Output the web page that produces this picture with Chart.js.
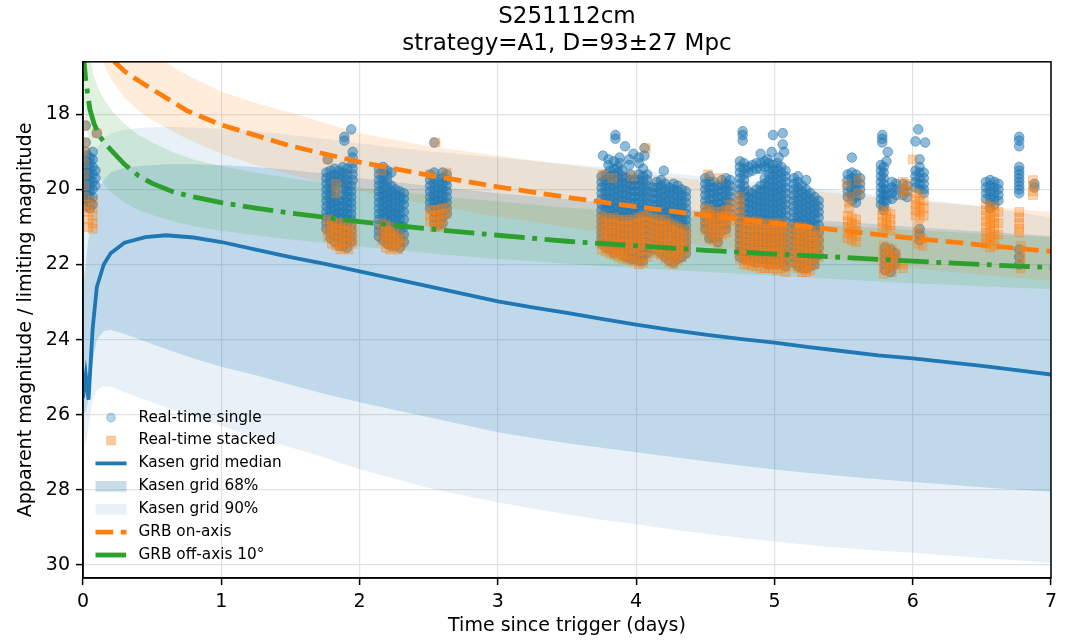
<!DOCTYPE html>
<html lang="en">
<head>
<meta charset="UTF-8">
<title>S251112cm light curve</title>
<script src="https://cdn.jsdelivr.net/npm/chart.js@4"></script>
<style>
    body { margin: 0; background: #fff; }
    #lc { display: block; }
</style>
</head>
<body>
<canvas id="lc" width="1068" height="641"></canvas>
<script>
// ---- axis ticks ----
const dayTicks = [0, 1, 2, 3, 4, 5, 6, 7];
const magTicks = [18, 20, 22, 24, 26, 28, 30];

// ---- Kasen grid envelope (days, mag) ----
const kasenT = [0, 0.02, 0.04, 0.07, 0.1, 0.15, 0.2, 0.3, 0.45, 0.6, 0.8, 1.0, 1.25, 1.5, 1.75, 2.0, 2.25, 2.5, 2.75, 3.0, 3.25, 3.5, 3.75, 4.0, 4.25, 4.5, 4.75, 5.0, 5.25, 5.5, 5.75, 6.0, 6.25, 6.5, 6.75, 7.0];
const kasenMedian = [25.55, 24.95, 25.6, 23.7, 22.6, 22.0, 21.7, 21.42, 21.27, 21.22, 21.28, 21.4, 21.6, 21.8, 21.98, 22.18, 22.38, 22.58, 22.78, 22.98, 23.14, 23.29, 23.45, 23.6, 23.74, 23.87, 23.98, 24.08, 24.2, 24.31, 24.42, 24.5, 24.6, 24.7, 24.81, 24.93];
const kasen68Bright = [22.6, 22.0, 21.3, 20.6, 20.1, 19.75, 19.55, 19.42, 19.36, 19.33, 19.33, 19.35, 19.4, 19.48, 19.58, 19.7, 19.8, 19.9, 20.0, 20.1, 20.18, 20.26, 20.34, 20.42, 20.5, 20.58, 20.66, 20.74, 20.8, 20.87, 20.93, 21.0, 21.06, 21.12, 21.18, 21.24];
const kasen68Faint = [26.0, 25.9, 25.6, 24.6, 24.0, 23.78, 23.74, 23.85, 24.05, 24.25, 24.5, 24.72, 24.95, 25.2, 25.45, 25.67, 25.87, 26.07, 26.27, 26.47, 26.62, 26.76, 26.88, 27.0, 27.12, 27.24, 27.35, 27.46, 27.55, 27.64, 27.72, 27.79, 27.86, 27.93, 27.99, 28.05];
const kasen90Bright = [21.5, 20.5, 19.8, 19.2, 18.9, 18.65, 18.5, 18.4, 18.35, 18.33, 18.35, 18.38, 18.45, 18.55, 18.65, 18.77, 18.88, 18.98, 19.07, 19.15, 19.24, 19.32, 19.4, 19.48, 19.57, 19.66, 19.75, 19.85, 19.95, 20.05, 20.15, 20.25, 20.35, 20.45, 20.6, 20.75];
const kasen90Faint = [26.5, 26.8, 26.3, 25.6, 25.35, 25.24, 25.25, 25.4, 25.6, 25.8, 26.05, 26.3, 26.6, 26.87, 27.15, 27.45, 27.7, 27.95, 28.15, 28.33, 28.5, 28.65, 28.8, 28.92, 29.05, 29.17, 29.28, 29.38, 29.47, 29.55, 29.62, 29.68, 29.75, 29.82, 29.88, 29.95];

// ---- GRB afterglow, on-axis ----
const onAxisT = [0.05, 0.1, 0.15, 0.2, 0.3, 0.4, 0.5, 0.75, 1.0, 1.25, 1.5, 2.0, 2.5, 3.0, 3.5, 4.0, 4.5, 5.0, 5.5, 6.0, 6.5, 7.0];
const onAxisMag = [14.0, 15.2, 15.95, 16.5, 16.85, 17.1, 17.33, 17.9, 18.28, 18.56, 18.84, 19.27, 19.62, 19.93, 20.21, 20.46, 20.69, 20.9, 21.1, 21.3, 21.48, 21.65];
const onAxisBright = [12.5, 13.8, 14.6, 15.2, 15.75, 16.1, 16.4, 16.95, 17.4, 17.7, 17.95, 18.5, 18.85, 19.1, 19.35, 19.57, 19.77, 19.95, 20.12, 20.3, 20.45, 20.6];
const onAxisFaint = [15.0, 16.1, 16.65, 17.05, 17.55, 17.9, 18.15, 18.65, 19.05, 19.35, 19.6, 20.05, 20.4, 20.72, 21.0, 21.25, 21.5, 21.7, 21.9, 22.1, 22.27, 22.43];

// ---- GRB afterglow, 10 deg off-axis ----
const offAxisT = [0, 0.02, 0.05, 0.08, 0.12, 0.17, 0.22, 0.3, 0.4, 0.5, 0.65, 0.8, 1.0, 1.25, 1.5, 2.0, 2.5, 3.0, 3.5, 4.0, 4.5, 5.0, 5.5, 6.0, 6.5, 7.0];
const offAxisMag = [16.3, 17.1, 17.87, 18.25, 18.58, 18.82, 19.02, 19.33, 19.63, 19.84, 20.06, 20.2, 20.35, 20.5, 20.63, 20.86, 21.05, 21.22, 21.38, 21.5, 21.62, 21.72, 21.81, 21.91, 22.0, 22.08];
const offAxisBright = [14.5, 15.5, 16.5, 17.0, 17.4, 17.7, 17.95, 18.25, 18.55, 18.75, 19.0, 19.2, 19.38, 19.55, 19.7, 19.95, 20.15, 20.32, 20.48, 20.62, 20.75, 20.87, 20.98, 21.08, 21.18, 21.27];
const offAxisFaint = [17.4, 18.2, 19.0, 19.4, 19.7, 19.95, 20.12, 20.35, 20.55, 20.68, 20.85, 20.98, 21.1, 21.22, 21.33, 21.52, 21.7, 21.85, 21.98, 22.1, 22.2, 22.3, 22.4, 22.5, 22.58, 22.66];

// ---- real-time limiting magnitudes: each row is [t, mag, mag, ...] ----
const singleObs = [
    [0.01, 19.35, 19.5, 19.65, 19.8, 19.95, 20.1, 20.25],
    [0.02, 18.3, 18.75, 19.0],
    [0.03, 19.1, 19.25, 19.4, 19.55, 19.7, 19.85, 20.0, 20.15, 20.3, 20.45],
    [0.05, 19.15, 19.3, 19.45, 19.6, 19.75, 19.9, 20.05, 20.2, 20.35, 20.5],
    [0.07, 19.0, 19.2, 19.4, 19.6, 19.8, 20.0, 20.2, 20.4],
    [0.09, 19.5, 19.7, 19.9],
    [0.1, 18.5],
    [1.77, 19.2],
    [1.89, 18.6, 18.7], [1.94, 18.4], [1.95, 19.0, 19.15, 19.3, 19.45, 19.6, 19.75],
    [1.76, 19.55, 19.7, 19.85, 20.0, 20.15, 20.3, 20.45, 20.6, 20.75, 20.9, 21.05],
    [1.79, 19.5, 19.65, 19.8, 19.95, 20.1, 20.25, 20.4, 20.55, 20.7, 20.85, 21.0, 21.15, 21.3],
    [1.82, 19.45, 19.6, 19.75, 19.9, 20.05, 20.2, 20.35, 20.5, 20.65, 20.8, 20.95, 21.1, 21.25, 21.4],
    [1.85, 19.5, 19.65, 19.8, 20.3, 20.45, 20.6, 20.75, 20.9, 21.05, 21.2, 21.35, 21.5],
    [1.88, 19.4, 19.55, 19.7, 19.85, 20.0, 20.15, 20.3, 20.45, 20.6, 20.75, 20.9, 21.05, 21.2, 21.35, 21.5],
    [1.91, 19.45, 19.6, 19.75, 19.9, 20.05, 20.2, 20.35, 20.5, 20.65, 20.8, 20.95, 21.1, 21.25, 21.4, 21.55],
    [1.94, 19.9, 20.05, 20.2, 20.35, 20.5, 20.65, 20.8, 20.95, 21.1, 21.25, 21.4],
    [2.14, 19.45, 19.6, 19.75, 19.9, 20.05, 20.2, 20.35, 20.5, 20.65, 20.8, 20.95, 21.1, 21.25],
    [2.17, 19.4, 19.55, 19.7, 19.85, 20.0, 20.15, 20.3, 20.45, 20.6, 20.75, 20.9, 21.05, 21.2, 21.35],
    [2.2, 19.5, 19.65, 19.8, 19.95, 20.1, 20.25, 20.4, 20.55, 20.7, 20.85, 21.0, 21.15, 21.3, 21.45],
    [2.23, 19.55, 19.9, 20.05, 20.2, 20.35, 20.5, 20.65, 20.8, 20.95, 21.1, 21.25, 21.4, 21.5],
    [2.26, 20.0, 20.15, 20.3, 20.45, 20.6, 20.75, 20.9, 21.05, 21.2, 21.35, 21.5],
    [2.29, 20.05, 20.2, 20.35, 20.5, 20.65, 20.8, 20.95, 21.1, 21.25, 21.4, 21.55],
    [2.32, 20.1, 20.25, 20.4, 20.6, 20.8, 21.0, 21.2, 21.4],
    [2.51, 19.6, 19.75, 19.9, 20.05, 20.2, 20.35, 20.5],
    [2.54, 18.75, 19.55, 19.7, 19.85, 20.0, 20.15, 20.3, 20.45, 20.6, 20.75, 20.9],
    [2.57, 19.8, 19.95, 20.1, 20.25, 20.4, 20.55, 20.7, 20.85, 20.95],
    [2.6, 19.55, 19.7, 19.85, 20.0, 20.15, 20.3, 20.45, 20.6, 20.75, 20.9],
    [2.63, 19.6, 19.75, 19.9, 20.05, 20.2, 20.35, 20.5, 20.65],
    [3.85, 18.55, 18.65], [3.92, 18.85], [3.76, 19.1], [3.8, 19.2, 19.35], [3.84, 19.25], [3.88, 19.15, 19.3],
    [3.95, 19.2, 19.35], [3.98, 19.05], [4.02, 19.15, 19.3], [4.06, 18.9, 19.1], [4.05, 19.45],
    [3.75, 19.65, 19.8, 19.95, 20.1, 20.25, 20.4, 20.55, 20.7, 20.85, 21.0, 21.15, 21.3, 21.45],
    [3.78, 19.6, 19.75, 19.9, 20.05, 20.2, 20.35, 20.5, 20.65, 20.8, 20.95, 21.1, 21.25, 21.4, 21.55],
    [3.81, 19.5, 19.65, 19.8, 19.95, 20.1, 20.25, 20.4, 20.55, 20.7, 20.85, 21.0, 21.15, 21.3, 21.45, 21.6],
    [3.84, 19.45, 19.6, 19.75, 19.9, 20.05, 20.2, 20.35, 20.5, 20.65, 20.8, 20.95, 21.1, 21.25, 21.4, 21.55, 21.7],
    [3.87, 19.4, 19.55, 19.7, 19.85, 20.0, 20.15, 20.3, 20.45, 20.6, 20.75, 20.9, 21.05, 21.2, 21.35, 21.5, 21.65],
    [3.9, 19.5, 19.65, 19.8, 19.95, 20.1, 20.25, 20.4, 20.55, 20.7, 20.85, 21.0, 21.15, 21.3, 21.45, 21.6, 21.75],
    [3.93, 19.7, 19.85, 20.0, 20.15, 20.3, 20.45, 20.6, 20.75, 20.9, 21.05, 21.2, 21.35, 21.5, 21.65, 21.8],
    [3.96, 19.6, 19.75, 19.9, 20.05, 20.2, 20.35, 20.5, 20.65, 20.8, 20.95, 21.1, 21.25, 21.4, 21.55, 21.7, 21.85],
    [3.99, 19.75, 19.9, 20.05, 20.2, 20.35, 20.5, 20.65, 20.8, 20.95, 21.1, 21.25, 21.4, 21.55, 21.7, 21.85],
    [4.02, 19.6, 19.75, 19.9, 20.05, 20.2, 20.35, 20.5, 20.65, 20.8, 20.95, 21.1, 21.25, 21.4, 21.55, 21.7, 21.9],
    [4.05, 19.65, 19.8, 19.95, 20.1, 20.25, 20.4, 20.55, 20.7, 20.85, 21.0, 21.15, 21.3, 21.45, 21.6, 21.75, 21.9],
    [4.08, 19.6, 19.75, 19.9, 20.05, 20.2, 20.35, 20.5, 20.65, 20.8, 20.95, 21.1, 21.25, 21.4, 21.55, 21.7],
    [4.2, 19.5],
    [4.12, 19.95, 20.1, 20.25, 20.4, 20.55, 20.7, 20.85, 21.0, 21.15, 21.3, 21.45, 21.6],
    [4.15, 19.8, 19.95, 20.1, 20.25, 20.4, 20.55, 20.7, 20.85, 21.0, 21.15, 21.3, 21.45, 21.6],
    [4.18, 19.75, 19.9, 20.05, 20.2, 20.35, 20.5, 20.65, 20.8, 20.95, 21.1, 21.25, 21.4, 21.55, 21.7],
    [4.21, 19.85, 20.0, 20.15, 20.3, 20.45, 20.6, 20.75, 20.9, 21.05, 21.2, 21.35, 21.5, 21.65, 21.8],
    [4.24, 19.95, 20.1, 20.25, 20.4, 20.55, 20.7, 20.85, 21.0, 21.15, 21.3, 21.45, 21.6, 21.75, 21.9],
    [4.27, 19.85, 20.0, 20.15, 20.3, 20.45, 20.6, 20.75, 20.9, 21.05, 21.2, 21.35, 21.5, 21.65, 21.8, 21.95],
    [4.3, 19.9, 20.05, 20.2, 20.35, 20.5, 20.65, 20.8, 20.95, 21.1, 21.25, 21.4, 21.55, 21.7, 21.85],
    [4.33, 20.0, 20.15, 20.3, 20.45, 20.6, 20.75, 20.9, 21.05, 21.2, 21.35, 21.5, 21.65, 21.8],
    [4.36, 20.05, 20.2, 20.35, 20.5, 20.65, 20.8, 20.95, 21.1, 21.25, 21.4, 21.55, 21.7],
    [4.5, 19.7, 19.85, 20.0, 20.15, 20.3, 20.45, 20.6, 20.75, 20.9, 21.05],
    [4.53, 19.65, 19.8, 19.95, 20.1, 20.25, 20.4, 20.55, 20.7, 20.85, 21.0, 21.15, 21.3],
    [4.56, 19.8, 19.95, 20.1, 20.25, 20.4, 20.55, 20.7, 20.85, 21.0, 21.15, 21.3],
    [4.59, 19.9, 20.05, 20.2, 20.35, 20.5, 20.65, 20.8, 20.95, 21.1, 21.25, 21.4],
    [4.62, 19.75, 19.9, 20.05, 20.2, 20.35, 20.5, 20.65, 20.8, 20.95, 21.1],
    [4.65, 19.7, 19.85, 20.0, 20.15, 20.3, 20.45, 20.6, 20.75, 20.9, 21.05],
    [4.68, 19.75, 19.9, 20.05, 20.2, 20.35, 20.5, 20.65],
    [4.77, 18.45, 18.55, 18.7], [4.99, 18.55], [5.06, 18.5, 18.8], [4.98, 19.0], [5.07, 19.0],
    [4.9, 19.05], [4.95, 19.2], [5.03, 19.15],
    [4.75, 19.25, 19.4, 19.55, 19.7, 19.85, 20.0, 20.15, 20.3, 20.45, 20.6, 20.75, 20.9, 21.05, 21.2, 21.35, 21.5, 21.65, 21.8],
    [4.78, 19.3, 19.45, 19.6, 19.75, 19.9, 20.05, 20.2, 20.35, 20.5, 20.65, 20.8, 20.95, 21.1, 21.25, 21.4, 21.55, 21.7, 21.85],
    [4.81, 19.4, 19.55, 20.05, 20.2, 20.35, 20.5, 20.65, 20.8, 20.95, 21.1, 21.25, 21.4, 21.55, 21.7, 21.85],
    [4.84, 19.35, 19.5, 20.1, 20.25, 20.4, 20.55, 20.7, 20.85, 21.0, 21.15, 21.3, 21.45, 21.6, 21.75, 21.9],
    [4.87, 19.3, 19.45, 20.0, 20.15, 20.3, 20.45, 20.6, 20.75, 20.9, 21.05, 21.2, 21.35, 21.5, 21.65, 21.8, 21.95],
    [4.9, 19.3, 19.45, 19.9, 20.05, 20.2, 20.35, 20.5, 20.65, 20.8, 20.95, 21.1, 21.25, 21.4, 21.55, 21.7, 21.85],
    [4.93, 19.25, 19.4, 19.7, 19.85, 20.0, 20.15, 20.3, 20.45, 20.6, 20.75, 20.9, 21.05, 21.2, 21.35, 21.5, 21.65, 21.8, 21.95],
    [4.96, 19.3, 19.45, 19.6, 19.75, 19.9, 20.05, 20.2, 20.35, 20.5, 20.65, 20.8, 20.95, 21.1, 21.25, 21.4, 21.55, 21.7, 21.85, 22.0],
    [4.99, 19.35, 19.5, 19.65, 19.8, 19.95, 20.1, 20.25, 20.4, 20.55, 20.7, 20.85, 21.0, 21.15, 21.3, 21.45, 21.6, 21.75, 21.9],
    [5.02, 19.3, 19.45, 19.6, 19.75, 19.9, 20.05, 20.2, 20.35, 20.5, 20.65, 20.8, 20.95, 21.1, 21.25, 21.4, 21.55, 21.7, 21.85, 22.0],
    [5.05, 19.4, 19.55, 19.7, 19.85, 20.0, 20.15, 20.3, 20.45, 20.6, 20.75, 20.9, 21.05, 21.2, 21.35, 21.5, 21.65, 21.8, 21.95],
    [5.08, 19.5, 19.65, 19.8, 19.95, 20.1, 20.25, 20.4, 20.55, 20.7, 20.85, 21.0, 21.15, 21.3, 21.45, 21.6, 21.75, 21.9, 22.05],
    [5.14, 19.7, 19.85, 20.0, 20.15, 20.3, 20.45, 20.6, 20.75, 20.9, 21.05, 21.2, 21.35, 21.5, 21.65, 21.8, 21.95],
    [5.17, 19.65, 19.8, 19.95, 20.1, 20.25, 20.4, 20.55, 20.7, 20.85, 21.0, 21.15, 21.3, 21.45, 21.6, 21.75, 21.9, 22.05],
    [5.2, 19.9, 20.05, 20.2, 20.35, 20.5, 20.65, 20.8, 20.95, 21.1, 21.25, 21.4, 21.55, 21.7, 21.85, 22.0, 22.1],
    [5.23, 19.75, 20.0, 20.15, 20.3, 20.45, 20.6, 20.75, 20.9, 21.05, 21.2, 21.35, 21.5, 21.65, 21.8, 21.95, 22.1],
    [5.26, 20.1, 20.25, 20.4, 20.55, 20.7, 20.85, 21.0, 21.15, 21.3, 21.45, 21.6, 21.75, 21.9, 22.05],
    [5.29, 20.2, 20.35, 20.5, 20.65, 20.8, 20.95, 21.1, 21.25, 21.4, 21.55, 21.7, 21.85, 22.0],
    [5.32, 20.3, 20.45, 20.6, 20.75, 20.95, 21.15, 21.35, 21.55, 21.75],
    [5.56, 19.15],
    [5.53, 19.6, 19.75, 19.9, 20.05, 20.2],
    [5.56, 19.55, 19.7, 19.85, 20.0, 20.15, 20.3],
    [5.59, 19.6, 19.75, 19.9, 20.05, 20.2, 20.35],
    [5.62, 19.7, 19.85, 20.0, 20.15],
    [5.78, 18.55, 18.65, 18.75], [5.82, 19.0], [5.81, 19.25],
    [5.77, 19.35, 19.5, 19.65, 19.8, 19.95, 20.1, 20.25, 20.4],
    [5.79, 19.4, 19.55, 19.7, 19.85, 20.0, 20.15, 20.3, 20.45, 20.55],
    [5.81, 20.0, 20.15, 20.3],
    [5.85, 19.8, 19.95, 20.1, 20.25],
    [5.88, 19.85, 20.0, 20.15],
    [5.8, 21.55, 21.7, 21.85, 22.0, 22.15], [5.84, 21.6, 21.75, 21.9, 22.05, 22.2], [5.87, 21.7, 21.85, 22.0],
    [5.93, 19.85, 20.0, 20.15], [5.96, 19.9, 20.05, 20.2],
    [6.04, 18.4], [6.02, 18.72], [6.09, 18.75], [6.05, 19.2],
    [6.02, 19.5, 19.65, 19.8, 19.95], [6.05, 19.4, 19.55, 19.7, 19.85, 20.0], [6.08, 19.55, 19.7, 19.85, 20.0, 20.1],
    [6.05, 21.05, 21.2, 21.35],
    [6.53, 19.8, 19.95, 20.1, 20.25], [6.56, 19.75, 19.9, 20.05, 20.2, 20.35, 20.5],
    [6.59, 19.8, 19.95, 20.1, 20.25, 20.4], [6.62, 19.85, 20.0, 20.15, 20.3],
    [6.77, 18.6, 18.7, 18.85, 19.4, 19.5, 19.6, 19.7, 19.8, 19.9, 20.0, 20.1, 21.6, 21.8, 22.0],
    [6.88, 19.85, 19.95]
];

const stackedObs = [
    [0.01, 18.3, 18.75, 19.0, 19.3, 19.6, 19.9, 20.2, 20.5],
    [0.1, 18.5],
    [0.04, 20.4, 20.6, 20.8, 21.0],
    [0.07, 20.3, 20.5, 20.7, 20.9, 21.05],
    [1.77, 19.2], [1.83, 19.85, 20.1],
    [1.77, 20.8, 20.95, 21.1, 21.25],
    [1.8, 20.85, 21.0, 21.15, 21.3, 21.45],
    [1.83, 20.9, 21.05, 21.2, 21.35, 21.5],
    [1.86, 20.9, 21.05, 21.2, 21.35, 21.5, 21.6],
    [1.89, 20.95, 21.1, 21.25, 21.4, 21.55],
    [1.92, 20.95, 21.1, 21.25, 21.4, 21.6],
    [1.95, 21.0, 21.15, 21.3, 21.45],
    [2.16, 19.5],
    [2.16, 20.9, 21.05, 21.2, 21.35],
    [2.19, 20.95, 21.1, 21.25, 21.4, 21.55],
    [2.22, 21.0, 21.15, 21.3, 21.45, 21.6],
    [2.25, 21.1, 21.25, 21.4, 21.55],
    [2.28, 21.2, 21.35, 21.5, 21.6],
    [2.31, 21.3, 21.45],
    [2.55, 18.75], [2.51, 19.6], [2.63, 19.55],
    [2.51, 20.55, 20.7, 20.85],
    [2.54, 20.55, 20.7, 20.85, 21.0],
    [2.57, 20.55, 20.7, 20.85, 21.0],
    [2.6, 20.5, 20.65, 20.8, 20.95],
    [2.63, 20.5, 20.65],
    [4.07, 18.9], [3.76, 19.6], [3.83, 19.7], [3.97, 19.65],
    [3.75, 20.7, 20.85, 21.0, 21.15, 21.3, 21.45, 21.6],
    [3.78, 20.75, 20.9, 21.05, 21.2, 21.35, 21.5, 21.65],
    [3.81, 20.8, 20.95, 21.1, 21.25, 21.4, 21.55, 21.7],
    [3.84, 20.75, 20.9, 21.05, 21.2, 21.35, 21.5, 21.65, 21.75],
    [3.87, 20.8, 20.95, 21.1, 21.25, 21.4, 21.55, 21.7, 21.8],
    [3.9, 20.85, 21.0, 21.15, 21.3, 21.45, 21.6, 21.75, 21.85],
    [3.93, 20.8, 20.95, 21.1, 21.25, 21.4, 21.55, 21.7, 21.85],
    [3.96, 20.85, 21.0, 21.15, 21.3, 21.45, 21.6, 21.75, 21.9],
    [3.99, 20.8, 20.95, 21.1, 21.25, 21.4, 21.55, 21.7, 21.9],
    [4.02, 20.75, 20.9, 21.05, 21.2, 21.35, 21.5, 21.65, 21.85, 22.0],
    [4.05, 20.7, 20.85, 21.0, 21.15, 21.3, 21.45, 21.6, 21.8, 21.95],
    [4.08, 20.7, 20.85, 21.0, 21.15, 21.3, 21.45, 21.6, 21.8],
    [4.12, 20.75, 20.9, 21.05, 21.2, 21.35, 21.5, 21.65],
    [4.15, 20.8, 20.95, 21.1, 21.25, 21.4, 21.55, 21.7],
    [4.18, 20.85, 21.0, 21.15, 21.3, 21.45, 21.6, 21.75],
    [4.21, 20.8, 20.95, 21.1, 21.25, 21.4, 21.55, 21.7, 21.85],
    [4.24, 20.9, 21.05, 21.2, 21.35, 21.5, 21.65, 21.8, 21.95],
    [4.27, 20.95, 21.1, 21.25, 21.4, 21.55, 21.7, 21.85, 22.0],
    [4.3, 21.0, 21.15, 21.3, 21.45, 21.6, 21.75, 21.9],
    [4.33, 21.05, 21.2, 21.35, 21.5, 21.65, 21.8],
    [4.36, 21.1, 21.25, 21.4, 21.55, 21.7],
    [4.52, 19.6], [4.6, 19.7],
    [4.5, 20.5, 20.65, 20.8, 20.95, 21.1],
    [4.53, 20.55, 20.7, 20.85, 21.0, 21.15, 21.3],
    [4.56, 20.6, 20.75, 20.9, 21.05, 21.2, 21.35],
    [4.59, 20.7, 20.85, 21.0, 21.15, 21.3, 21.45],
    [4.62, 20.6, 20.75, 20.9, 21.05, 21.2],
    [4.65, 20.55, 20.7, 20.85, 21.0, 21.15],
    [4.68, 20.4, 20.55, 20.7, 20.85],
    [4.75, 20.2, 20.35, 20.5, 20.65, 20.8, 20.95, 21.1, 21.25, 21.4, 21.55, 21.7, 21.85],
    [4.78, 20.85, 21.0, 21.15, 21.3, 21.45, 21.6, 21.75, 21.9, 22.0],
    [4.81, 20.85, 21.0, 21.15, 21.3, 21.45, 21.6, 21.75, 21.9, 22.0],
    [4.84, 20.9, 21.05, 21.2, 21.35, 21.5, 21.65, 21.8, 21.95, 22.05],
    [4.87, 20.85, 21.0, 21.15, 21.3, 21.45, 21.6, 21.75, 21.9, 22.05],
    [4.9, 20.9, 21.05, 21.2, 21.35, 21.5, 21.65, 21.8, 21.95, 22.1],
    [4.93, 20.9, 21.05, 21.2, 21.35, 21.5, 21.65, 21.8, 21.95, 22.1],
    [4.96, 20.95, 21.1, 21.25, 21.4, 21.55, 21.7, 21.85, 22.0, 22.1],
    [4.99, 20.9, 21.05, 21.2, 21.35, 21.5, 21.65, 21.8, 21.95, 22.1],
    [5.02, 20.95, 21.1, 21.25, 21.4, 21.55, 21.7, 21.85, 22.0, 22.15],
    [5.05, 20.9, 21.05, 21.2, 21.35, 21.5, 21.65, 21.8, 21.95, 22.1],
    [5.08, 21.0, 21.15, 21.3, 21.45, 21.6, 21.75, 21.9, 22.05, 22.2],
    [5.14, 21.0, 21.15, 21.3, 21.45, 21.6, 21.75, 21.9, 22.05],
    [5.17, 21.05, 21.2, 21.35, 21.5, 21.65, 21.8, 21.95, 22.1],
    [5.2, 21.0, 21.15, 21.3, 21.45, 21.6, 21.75, 21.9, 22.05, 22.2],
    [5.23, 21.05, 21.2, 21.35, 21.5, 21.65, 21.8, 21.95, 22.1, 22.2],
    [5.26, 21.1, 21.25, 21.4, 21.55, 21.7, 21.85, 22.0, 22.15],
    [5.29, 21.1, 21.25, 21.4, 21.55, 21.7, 21.85, 22.0],
    [5.32, 21.2, 21.35, 21.5, 21.65, 21.8],
    [5.52, 19.85], [5.61, 19.75], [5.61, 20.1],
    [5.54, 20.2, 20.35, 20.5],
    [5.53, 20.7, 20.85, 21.0, 21.15, 21.3],
    [5.56, 20.75, 20.9, 21.05, 21.2, 21.35],
    [5.59, 20.8, 20.95, 21.1, 21.25, 21.4],
    [5.78, 20.55, 20.7, 20.85, 21.0],
    [5.81, 20.6, 20.75, 20.9, 21.05],
    [5.84, 20.65, 20.8, 20.95, 21.1],
    [5.79, 21.5, 21.65, 21.8, 21.95, 22.1, 22.25],
    [5.82, 21.55, 21.7, 21.85, 22.0, 22.15],
    [5.85, 21.6, 21.75, 21.9, 22.05, 22.2],
    [5.88, 21.7, 21.85, 22.0],
    [5.93, 19.8, 20.0, 20.15], [5.96, 19.85, 20.05], [5.93, 22.0, 22.1],
    [6.0, 19.2],
    [6.02, 20.1, 20.25, 20.4, 20.55, 20.7],
    [6.05, 20.15, 20.3, 20.45, 20.6, 20.75],
    [6.08, 20.3, 20.5, 20.7],
    [6.04, 21.0, 21.15, 21.3, 21.45], [6.07, 21.3, 21.5],
    [6.53, 20.4, 20.55, 20.7, 20.85, 21.0, 21.15, 21.3, 21.45],
    [6.56, 20.5, 20.65, 20.8, 20.95, 21.1, 21.25, 21.4, 21.55],
    [6.59, 20.45, 20.6, 20.75, 20.9, 21.05, 21.2, 21.35, 21.5],
    [6.62, 20.6, 20.9, 21.2],
    [6.77, 20.6, 20.75, 20.9, 21.05, 21.15],
    [6.78, 21.5, 21.65, 21.8, 21.95, 22.1],
    [6.87, 19.75, 19.9, 20.05, 20.15]
];

const legendLabels = ['Real-time single', 'Real-time stacked', 'Kasen grid median', 'Kasen grid 68%', 'Kasen grid 90%', 'GRB on-axis', 'GRB off-axis 10°'];

// ---- helpers ----
const BLUE = '31,119,180', ORANGE = '255,127,14', GREEN = '44,160,44';
const rgba = (c, a) => `rgba(${c},${a})`;
const xy = (t, v) => t.map((x, i) => ({ x, y: v[i] }));
const flatten = rows => rows.flatMap(([t, ...mags]) => mags.map(m => ({ x: t, y: m })));
const FONT = '"DejaVu Sans", "Liberation Sans", sans-serif';

const SINGLE_A = 0.5, STACK_A = 0.32;

function edge(t, v, order) {
    return { data: xy(t, v), showLine: true, borderWidth: 0, borderColor: 'rgba(0,0,0,0)', pointRadius: 0, fill: false, order };
}
function edgeFill(t, v, color, order) {
    return { data: xy(t, v), showLine: true, borderWidth: 0, borderColor: 'rgba(0,0,0,0)', pointRadius: 0, fill: '-1', backgroundColor: color, order };
}
function curve(t, v, color, width, dash, order) {
    return { data: xy(t, v), showLine: true, borderColor: color, borderWidth: width, borderDash: dash, pointRadius: 0, fill: false, tension: 0, order };
}

const datasets = [
    edge(kasenT, kasen90Bright, 9),
    edgeFill(kasenT, kasen90Faint, rgba(BLUE, 0.1), 9),
    edge(kasenT, kasen68Bright, 8),
    edgeFill(kasenT, kasen68Faint, rgba(BLUE, 0.2), 8),
    edge(onAxisT, onAxisBright, 7),
    edgeFill(onAxisT, onAxisFaint, rgba(ORANGE, 0.15), 7),
    edge(offAxisT, offAxisBright, 6),
    edgeFill(offAxisT, offAxisFaint, rgba(GREEN, 0.15), 6),
    {
        label: 'Real-time single', data: flatten(singleObs), showLine: false,
        pointStyle: 'circle', pointRadius: 4.8, pointBorderWidth: 1,
        pointBackgroundColor: rgba(BLUE, SINGLE_A), pointBorderColor: rgba(BLUE, SINGLE_A), order: 5
    },
    {
        label: 'Real-time stacked', data: flatten(stackedObs), showLine: false,
        pointStyle: 'rect', pointRadius: 6.2, pointBorderWidth: 1,
        pointBackgroundColor: rgba(ORANGE, STACK_A), pointBorderColor: rgba(ORANGE, STACK_A), order: 4
    },
    curve(kasenT, kasenMedian, rgba(BLUE, 1), 3.8, [], 3),
    curve(onAxisT, onAxisMag, rgba(ORANGE, 1), 4.8, [17.7, 7.6], 2),
    curve(offAxisT, offAxisMag, rgba(GREEN, 1), 4.8, [30.6, 7.6, 4.8, 7.6], 1)
];

// legend drawn inside the axes, lower left, no frame
const mplLegend = {
    id: 'mplLegend',
    afterDatasetsDraw(chart) {
        const { ctx, chartArea } = chart;
        const x0 = chartArea.left + 12.5, x1 = x0 + 31, xm = (x0 + x1) / 2;
        const rowH = 22.9;
        const y0 = chartArea.bottom - 23 - rowH * (legendLabels.length - 1);
        ctx.save();
        legendLabels.forEach((label, i) => {
            const y = y0 + i * rowH;
            ctx.setLineDash([]);
            if (i === 0) {
                ctx.beginPath();
                ctx.arc(xm, y, 4.3, 0, Math.PI * 2);
                ctx.fillStyle = rgba(BLUE, 0.3);
                ctx.strokeStyle = rgba(BLUE, 0.3);
                ctx.lineWidth = 1.2;
                ctx.fill(); ctx.stroke();
            } else if (i === 1) {
                ctx.fillStyle = rgba(ORANGE, 0.4);
                ctx.strokeStyle = rgba(ORANGE, 0.4);
                ctx.lineWidth = 1;
                ctx.fillRect(xm - 4.25, y - 4.25, 8.5, 8.5);
                ctx.strokeRect(xm - 4.25, y - 4.25, 8.5, 8.5);
            } else if (i === 3 || i === 4) {
                ctx.fillStyle = rgba(BLUE, i === 3 ? 0.25 : 0.1);
                ctx.fillRect(x0, y - 5.3, x1 - x0, 10.7);
            } else {
                const spec = {
                    2: [rgba(BLUE, 1), 3.8, []],
                    5: [rgba(ORANGE, 1), 4.8, [17.7, 7.6]],
                    6: [rgba(GREEN, 1), 4.8, [30.6, 7.6, 4.8, 7.6]]
                }[i];
                ctx.strokeStyle = spec[0];
                ctx.lineWidth = spec[1];
                ctx.setLineDash(spec[2]);
                ctx.lineCap = 'butt';
                ctx.beginPath();
                ctx.moveTo(x0, y);
                ctx.lineTo(x1, y);
                ctx.stroke();
            }
            ctx.setLineDash([]);
            ctx.fillStyle = '#000';
            ctx.font = '15.3px ' + FONT;
            ctx.textBaseline = 'middle';
            ctx.textAlign = 'left';
            ctx.fillText(label, x1 + 12, y);
        });
        ctx.restore();
    }
};

// black box round the axes
const axesFrame = {
    id: 'axesFrame',
    afterDraw(chart) {
        const { ctx, chartArea: a } = chart;
        ctx.save();
        ctx.strokeStyle = '#000';
        ctx.lineWidth = 1.5;
        ctx.strokeRect(a.left, a.top, a.right - a.left, a.bottom - a.top);
        ctx.restore();
    }
};

Chart.defaults.font.family = FONT;
Chart.defaults.color = '#000';

new Chart(document.getElementById('lc'), {
    type: 'line',
    data: { datasets },
    plugins: [mplLegend, axesFrame],
    options: {
        responsive: false,
        animation: false,
        devicePixelRatio: 1,
        layout: { padding: { left: 0, right: 17, top: 0, bottom: 0 } },
        plugins: {
            legend: { display: false },
            tooltip: { enabled: false },
            title: {
                display: true,
                fullSize: false,
                text: ['S251112cm', 'strategy=A1, D=93±27 Mpc'],
                font: { size: 23, weight: 'normal', lineHeight: 1.17 },
                padding: { top: 4, bottom: 4 },
                color: '#000'
            }
        },
        scales: {
            x: {
                type: 'linear',
                min: 0, max: 7,
                afterBuildTicks: s => { s.ticks = dayTicks.map(v => ({ value: v })); },
                afterFit: s => { s.height = 63; },
                ticks: { font: { size: 19 }, padding: 6, maxRotation: 0 },
                grid: { color: '#e2e2e2', lineWidth: 1.2, tickColor: '#000', tickLength: 7, tickWidth: 1.5 },
                border: { color: '#000', width: 1.5 },
                title: { display: true, text: 'Time since trigger (days)', font: { size: 19 }, padding: { top: 0, bottom: 3.5 } }
            },
            y: {
                type: 'linear',
                reverse: true,
                min: 16.6, max: 30.35,
                afterBuildTicks: s => { s.ticks = magTicks.map(v => ({ value: v })); },
                afterFit: s => { s.width = 83; },
                ticks: { font: { size: 19 }, padding: 6 },
                grid: { color: '#e2e2e2', lineWidth: 1.2, tickColor: '#000', tickLength: 7, tickWidth: 1.5 },
                border: { color: '#000', width: 1.5 },
                title: { display: true, text: 'Apparent magnitude / limiting magnitude', font: { size: 19 }, padding: { top: 15, bottom: 0 } }
            }
        }
    }
});
</script>
</body>
</html>
